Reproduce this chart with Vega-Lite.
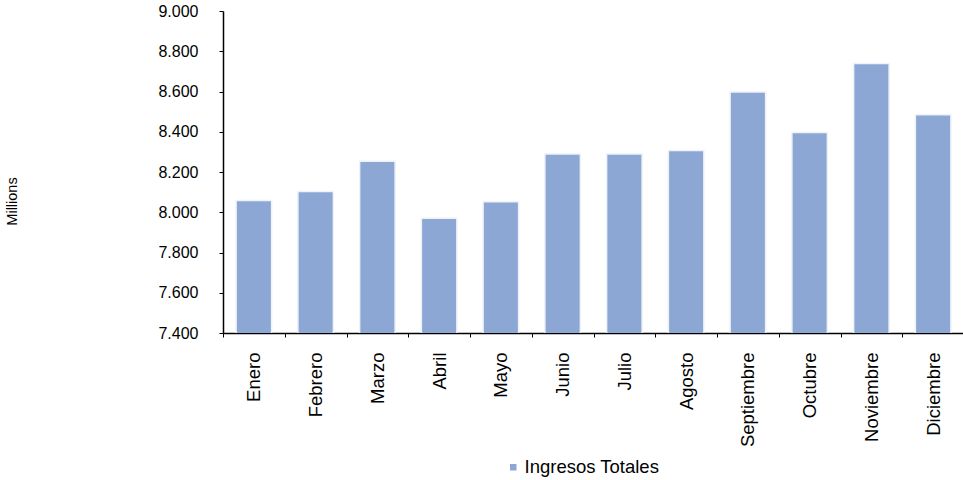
{
  "$schema": "https://vega.github.io/schema/vega-lite/v6.json",
  "autosize": "none",
  "width": 741,
  "height": 322,
  "padding": {"left": 223, "top": 11, "right": 0, "bottom": 147},
  "background": "white",
  "config": {
    "font": "Liberation Sans",
    "view": {"stroke": null}
  },
  "data": {
    "values": [
      {"mes": "Enero", "serie": "Ingresos Totales", "valor": 8.058},
      {"mes": "Febrero", "serie": "Ingresos Totales", "valor": 8.103},
      {"mes": "Marzo", "serie": "Ingresos Totales", "valor": 8.254},
      {"mes": "Abril", "serie": "Ingresos Totales", "valor": 7.970},
      {"mes": "Mayo", "serie": "Ingresos Totales", "valor": 8.052},
      {"mes": "Junio", "serie": "Ingresos Totales", "valor": 8.289},
      {"mes": "Julio", "serie": "Ingresos Totales", "valor": 8.289},
      {"mes": "Agosto", "serie": "Ingresos Totales", "valor": 8.307},
      {"mes": "Septiembre", "serie": "Ingresos Totales", "valor": 8.598},
      {"mes": "Octubre", "serie": "Ingresos Totales", "valor": 8.396},
      {"mes": "Noviembre", "serie": "Ingresos Totales", "valor": 8.739},
      {"mes": "Diciembre", "serie": "Ingresos Totales", "valor": 8.485}
    ]
  },
  "mark": {
    "type": "bar",
    "clip": true,
    "width": {"band": 0.575},
    "stroke": "#EEF2F9",
    "strokeWidth": 1.5
  },
  "encoding": {
    "x": {
      "field": "mes",
      "type": "nominal",
      "sort": null,
      "scale": {"paddingInner": 0, "paddingOuter": 0},
      "axis": {
        "title": null,
        "labelAngle": -90,
        "labelFontSize": 18.5,
        "labelColor": "black",
        "labelPadding": 15,
        "tickBand": "extent",
        "tickSize": 4,
        "tickColor": "black",
        "domainColor": "black",
        "domainWidth": 1.5,
        "grid": false
      }
    },
    "y": {
      "field": "valor",
      "type": "quantitative",
      "scale": {"domain": [7.4, 9.0], "nice": false, "zero": false},
      "axis": {
        "title": "Millions",
        "titleFontSize": 14.5,
        "titleFontWeight": "normal",
        "titleColor": "black",
        "titleAngle": -90,
        "titleX": -211,
        "titleY": 190,
        "titleAlign": "center",
        "titleBaseline": "middle",
        "values": [7.4, 7.6, 7.8, 8.0, 8.2, 8.4, 8.6, 8.8, 9.0],
        "format": ".3f",
        "labelFontSize": 16,
        "labelColor": "black",
        "labelPadding": 21,
        "tickSize": 4,
        "tickColor": "black",
        "domainColor": "black",
        "domainWidth": 1.5,
        "grid": false
      }
    },
    "color": {
      "field": "serie",
      "type": "nominal",
      "scale": {"range": ["#8DA7D4"]},
      "legend": {
        "title": null,
        "orient": "none",
        "legendX": 281,
        "legendY": 447,
        "symbolType": "square",
        "symbolSize": 42,
        "symbolStrokeWidth": 0,
        "labelFontSize": 18.5,
        "labelColor": "black",
        "labelOffset": 2,
        "padding": 0
      }
    }
  }
}
